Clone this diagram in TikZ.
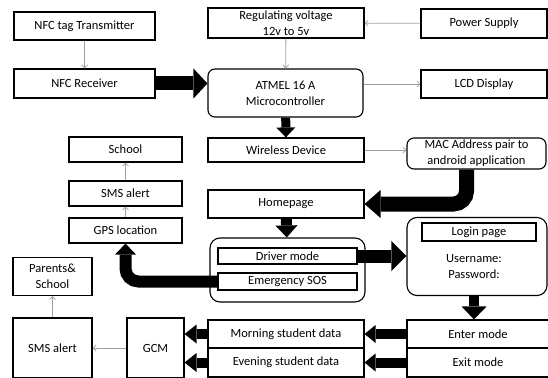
\documentclass[tikz,border=0pt]{standalone}
\usepackage{fontspec}
\setmainfont{Carlito}
\usetikzlibrary{arrows.meta}
\tikzset{box/.style={draw,line width=1.1pt,align=center,inner sep=0pt,
  font=\fontsize{12.5}{16}\selectfont},
  rbox/.style={box,rounded corners=7pt},
  panel/.style={box,rounded corners=10pt},
  wh/.style 2 args={minimum width=#1pt,minimum height=#2pt},
  link/.style={-{Straight Barb[length=3pt,width=6pt]},draw=gray!75,line width=0.8pt},
  fat/.style n args={3}{line width=#1pt,-{Triangle[length=#3pt,width=#2pt,line width=0pt]}}}
\begin{document}
\begin{tikzpicture}[x=1pt,y=-1pt]
\useasboundingbox (0,0) rectangle (548,377);
% top row
\node[box,wh={141}{28}] (tag) at (84.5,26) {NFC tag Transmitter};
\node[box,wh={141}{29}] (reader) at (84.5,83.5) {NFC Receiver};
\node[box,wh={156}{30}] (reg) at (286,23) {Regulating voltage\\12v to 5v};
\node[box,wh={126}{29}] (power) at (484,23.5) {Power Supply};
\node[rbox,wh={155}{48}] (mcu) at (285.5,93) {ATMEL 16 A\\Microcontroller};
\node[box,wh={126}{28}] (lcd) at (484,84) {LCD Display};
% middle
\node[box,wh={156}{24}] (wireless) at (286,150) {Wireless Device};
\node[rbox,wh={139}{31}] (mac) at (476.5,153.5) {MAC Address pair to\\android application};
\node[box,wh={156}{28}] (home) at (286,204) {Homepage};
\node[box,wh={113}{25}] (school) at (125.5,149.5) {School};
\node[box,wh={113}{25}] (alert) at (125.5,193.5) {SMS alert};
\node[box,wh={113}{25}] (gps) at (125.5,230.5) {GPS location};
\node[panel,wh={155}{64}] (modes) at (287.5,270) {};
\node[box,wh={139}{16}] (driver) at (287.5,256) {Driver mode};
\node[box,wh={139}{17}] (sos) at (287.5,281.5) {Emergency SOS};
\node[panel,wh={140}{78}] (login) at (477,256.5) {};
\node[box,wh={114}{18}] (loginpage) at (479,232) {Login page};
\node[box,draw=none] (fields) at (474,267) {Username:\\Password:};
% bottom rows
\node[box,wh={79}{38}] (parents) at (52.5,276.5) {Parents\&\\School};
\node[box,wh={79}{60}] (sms) at (52.5,348) {SMS alert};
\node[box,wh={57}{60}] (gcm) at (155.5,348) {GCM};
\node[box,wh={156}{28}] (morning) at (286,334) {Morning student data};
\node[box,wh={156}{29}] (evening) at (286,362.5) {Evening student data};
\node[box,wh={142}{28}] (enter) at (478,334) {Enter mode};
\node[box,wh={142}{29}] (exit) at (478,362.5) {Exit mode};
% thin links
\draw[link] (tag) -- (reader);
\draw[link] (power) -- (reg);
\draw[link] (reg) -- (mcu);
\draw[link] (mcu.east |- lcd.west) -- (lcd.west);
\draw[link] (wireless.east) -- (mac.west |- wireless.east);
\draw[link] (gps) -- (alert);
\draw[link] (alert) -- (school);
\draw[link] (gcm) -- (sms);
\draw[link] (sms) -- (parents);
% thick flows
\draw[fat={14}{30}{14}] (reader) -- (mcu.west |- reader.east);
\draw[fat={9}{19}{10}] (mcu) -- (wireless);
\draw[fat={15}{28}{16},rounded corners=13pt] ([xshift=-10pt]mac.south) |- (home.east);
\draw[fat={11}{22}{12}] (home) -- (modes);
\draw[fat={13}{30}{15}] (driver.east) -- (login.west |- driver.east);
\draw[fat={12}{21}{11},rounded corners=13pt] (sos.west) -| (gps.south);
\draw[fat={10}{25}{13}] ([xshift=-3pt]login.south) -- ([xshift=-3pt]login.south |- enter.north);
\draw[fat={10}{18}{11}] (enter) -- (morning);
\draw[fat={10}{18}{11}] (exit) -- (evening);
\draw[fat={10}{19}{12}] (morning) -- (gcm.east |- morning.west);
\draw[fat={10}{19}{12}] (evening) -- (gcm.east |- evening.west);
\end{tikzpicture}
\end{document}
